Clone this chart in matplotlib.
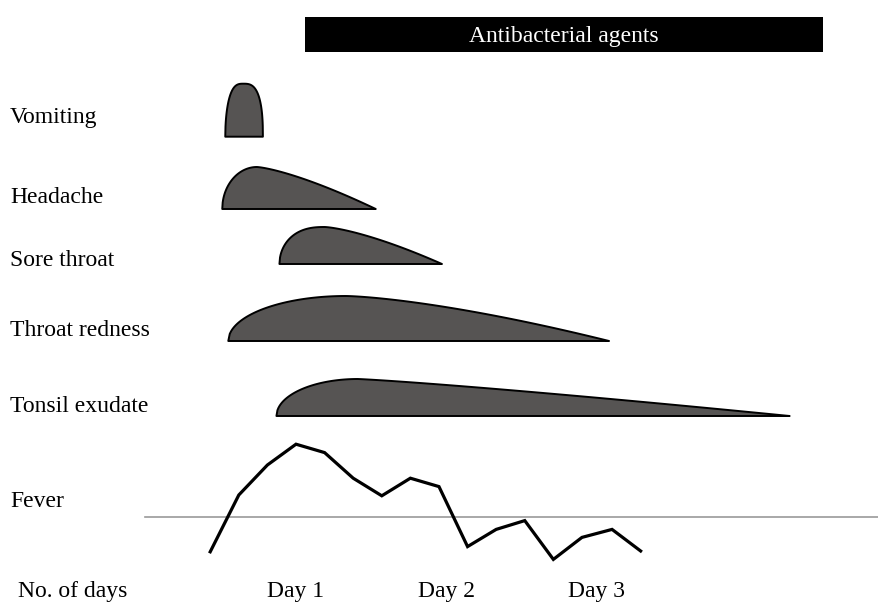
import numpy as np
import matplotlib.pyplot as plt

plt.rcParams['font.family'] = ['Liberation Serif', 'DejaVu Serif']

# symptom course, days from onset of illness
symptoms = ['Vomiting', 'Headache', 'Sore throat', 'Throat redness', 'Tonsil exudate']
onset = [0.53, 0.51, 0.89, 0.55, 0.87]
peak_day = [0.65, 0.74, 1.19, 1.33, 1.41]
resolved = [0.78, 1.53, 1.97, 3.08, 4.28]
intensity = [53, 42, 37, 45, 37]
rise_exp = [3.0, 2.0, 2.5, 2.0, 2.0]
fall_exp = [3.0, 1.35, 1.4, 1.45, 1.15]
fall_pow = [0.4, 1.0, 1.0, 1.0, 1.0]

# fever readings
fever_day = [0.43, 0.62, 0.81, 1.00, 1.19, 1.38, 1.57, 1.76, 1.95,
             2.14, 2.33, 2.52, 2.71, 2.90, 3.10, 3.29]
fever_temp = [37.13, 38.55, 39.30, 39.82, 39.61, 38.97, 38.53, 38.97, 38.76,
              37.26, 37.69, 37.91, 36.94, 37.49, 37.69, 37.15]
fever_ref = 38.0

abx_start = 1.06
abx_end = 4.50
abx_label = 'Antibacterial agents'

day_ticks = [1, 2, 3]
day_labels = ['Day 1', 'Day 2', 'Day 3']

# layout (pixels from top of figure)
W, H = 879, 603
row_base = [136.7, 209, 264, 341, 416]
label_base = [123, 203, 266, 336, 412]
x0_px, px_per_day = 145.5, 150.5
fs = 17

fig = plt.figure(figsize=(W / 100, H / 100), dpi=100)
fig.patch.set_facecolor('white')

ax = fig.add_axes([0, 0, 1, 1])
ax.set_xlim(-x0_px / px_per_day, (W - x0_px) / px_per_day)
ax.set_ylim(H, 0)
ax.axis('off')

# symptom shapes
for i in range(len(symptoms)):
    a, p, b, h = onset[i], peak_day[i], resolved[i], intensity[i]
    xr = np.linspace(a, p, 80)
    s = (p - xr) / (p - a)
    yr = h * np.clip(1 - s ** rise_exp[i], 0, 1) ** 0.5
    xf = np.linspace(p, b, 160)
    t = (xf - p) / (b - p)
    yf = h * np.clip(1 - t ** fall_exp[i], 0, 1) ** fall_pow[i]
    xs = np.concatenate([xr, xf[1:]])
    ys = np.concatenate([yr, yf[1:]])
    ax.fill(xs, row_base[i] - ys, facecolor='#565453', edgecolor='black',
            linewidth=1.4, joinstyle='round')
    fig.text(10 / W, 1 - label_base[i] / H, symptoms[i], fontsize=fs,
             va='baseline', ha='left')

# antibacterial bar
ax.barh(34, abx_end - abx_start, left=abx_start, height=35, color='black')
ax.text((abx_start + abx_end) / 2, 42, abx_label, color='white',
        fontsize=fs, ha='center', va='baseline')

# fever curve
ax2 = fig.add_axes([0, 0, 1, 1], sharex=ax)
ax2.patch.set_alpha(0)
ax2.set_ylim(fever_ref - (H - 517) / 40, fever_ref + 517 / 40)
ax2.axis('off')
ax2.axhline(fever_ref, xmin=x0_px / W, xmax=1, color='#9a9a9a', linewidth=1.2)
ax2.plot(fever_day, fever_temp, color='black', linewidth=2.3,
         solid_joinstyle='miter')
fig.text(10 / W, 1 - 507 / H, 'Fever', fontsize=fs, va='baseline')

# day labels
fig.text(18 / W, 1 - 597 / H, 'No. of days', fontsize=fs, va='baseline')
for d, lab in zip(day_ticks, day_labels):
    ax.text(d, 597, lab, fontsize=fs, ha='center', va='baseline')

fig.savefig('out.png', dpi=100)
